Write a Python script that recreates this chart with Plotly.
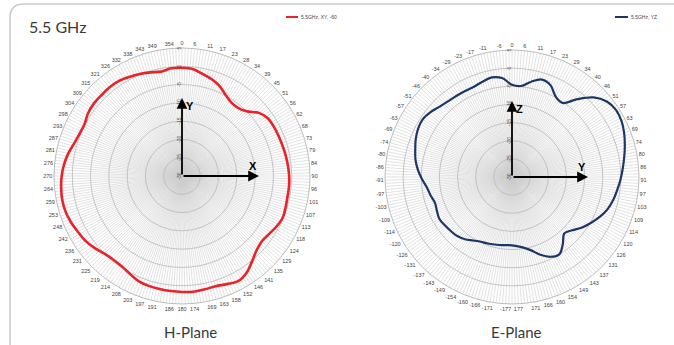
import plotly.graph_objects as go

W, H = 674, 345

# ---------------- data ----------------
H_LABELS = ["0", "6", "11", "17", "23", "28", "34", "39", "45", "51", "56", "62", "68", "73", "79", "84",
            "90", "96", "101", "107", "113", "118", "124", "129", "135", "141", "146", "152", "158", "163", "169", "174",
            "180", "186", "191", "197", "203", "208", "214", "219", "225", "231", "236", "242", "248", "253", "259", "264",
            "270", "276", "281", "287", "293", "298", "304", "309", "315", "321", "326", "332", "338", "343", "349", "354"]
H_VALUES = [-0.4, -0.6, -1.5, -2.3, -3.3, -4.8, -5.8, -5.9, -5.0, -2.8, -1.7, -1.5, -1.4, -1.3, -1.1, -0.9,
            -0.7, -0.6, -0.6, -0.4, -0.2, -0.7, -1.4, -1.8, -1.2, 0.2, 1.8, 2.6, 2.0, 1.5, 1.6, 1.8,
            1.7, 1.6, 1.5, 1.4, 1.1, 0.3, -0.3, -0.4, 0.0, 1.0, 1.8, 2.3, 2.9, 3.3, 3.4, 3.2,
            2.9, 2.4, 1.7, 0.8, 0.3, 0.2, 0.9, 1.2, 1.2, 1.3, 1.2, 0.7, 0.2, -0.4, -0.9, -0.4]

E_LABELS = ["0", "6", "11", "17", "23", "29", "34", "40", "46", "51", "57", "63", "69", "74", "80", "86",
            "91", "97", "103", "109", "114", "120", "126", "131", "137", "143", "149", "154", "160", "166", "171", "177",
            "-177", "-171", "-166", "-160", "-154", "-149", "-143", "-137", "-131", "-126", "-120", "-114", "-109", "-103", "-97",
            "-91", "-86", "-80", "-74", "-69", "-63", "-57", "-51", "-46", "-40", "-34", "-29", "-23", "-17", "-11", "-6"]
E_VALUES = [-4.6, -4.8, -3.2, -1.9, -2.6, -4.8, -5.3, -2.0, 1.4, 3.4, 4.1, 3.9, 3.2, 2.3, 1.4, 0.6,
            -0.1, -0.8, -1.4, -2.2, -3.4, -4.8, -6.2, -7.8, -8.8, -6.8, -5.0, -5.6, -7.2, -9.2, -10.4, -11.0,
            -11.2, -11.0, -10.8, -10.5, -10.2, -9.5, -8.5, -7.8, -7.5, -7.2, -6.9, -7.3, -7.6, -7.0, -6.4,
            -5.2, -4.0, -3.0, -2.3, -1.5, -0.9, -0.7, -1.3, -2.2, -2.7, -2.9, -3.0, -3.0, -2.5, -2.0, -2.6]

R_TICKS = [-30, -25, -20, -15, -10, -5, 0, 5]
H_NAME = "5.5GHz, XY, -60"
E_NAME = "5.5GHz, YZ"
SPOKES_PER_LABEL = 4

GRID = "#cfcfcf"
LABEL_C = "#444444"


def angles(n):
    return [i * 360.0 / n for i in range(n)]


def angular_axis(labels):
    n = len(labels) * SPOKES_PER_LABEL
    vals = angles(n)
    text = [labels[i // SPOKES_PER_LABEL] if i % SPOKES_PER_LABEL == 0 else "" for i in range(n)]
    return dict(rotation=90, direction="clockwise", type="linear", tickmode="array",
                tickvals=vals, ticktext=text, showgrid=True, gridcolor=GRID, gridwidth=0.6,
                showline=True, linecolor="#bdbdbd", linewidth=1, ticks="",
                tickfont=dict(size=5.5, color=LABEL_C, family="Liberation Sans"))


def radial_axis():
    return dict(range=[-30, 5], tickmode="array", tickvals=R_TICKS, ticktext=[str(v) for v in R_TICKS],
                angle=90, tickangle=0, side="counterclockwise", showline=False, ticks="",
                showgrid=True, gridcolor="#b8b8b8", gridwidth=0.8,
                tickfont=dict(size=5, color=LABEL_C, family="Liberation Sans"))


fig = go.Figure()
h_theta = angles(len(H_LABELS))
e_theta = angles(len(E_LABELS))
fig.add_trace(go.Scatterpolar(r=H_VALUES + H_VALUES[:1], theta=h_theta + h_theta[:1], mode="lines",
                              line=dict(color="#e8232a", width=2.6, shape="spline", smoothing=1),
                              name=H_NAME, subplot="polar", showlegend=False, hoverinfo="skip"))
fig.add_trace(go.Scatterpolar(r=E_VALUES + E_VALUES[:1], theta=e_theta + e_theta[:1], mode="lines",
                              line=dict(color="#1c3766", width=2.2, shape="spline", smoothing=1),
                              name=E_NAME, subplot="polar2", showlegend=False, hoverinfo="skip"))


def dom(cx, cy, r):
    return dict(x=[(cx - r) / W, (cx + r) / W], y=[1 - (cy + r) / H, 1 - (cy - r) / H])


fig.update_layout(
    width=W, height=H, autosize=False,
    margin=dict(l=0, r=0, t=0, b=0, pad=0),
    paper_bgcolor="white", plot_bgcolor="white",
    showlegend=False,
    polar=dict(domain=dom(182, 176, 128), bgcolor="rgba(0,0,0,0)",
               angularaxis=angular_axis(H_LABELS), radialaxis=radial_axis()),
    polar2=dict(domain=dom(512, 177, 127), bgcolor="rgba(0,0,0,0)",
                angularaxis=angular_axis(E_LABELS), radialaxis=radial_axis()),
)


def px(x):
    return x / W


def py(y):
    return 1 - y / H


# card border
rx, ry = 14 / W, 14 / H
x0, yt = px(10), py(4)
fig.add_shape(type="path", xref="paper", yref="paper",
              path=f"M {x0},{py(360)} L {x0},{yt - ry} Q {x0},{yt} {x0 + rx},{yt} L {px(690)},{yt}",
              line=dict(color="#c9c9c9", width=1.5), layer="below")

ann = []
ann.append(dict(x=px(27), y=py(27), xref="paper", yref="paper", text="5.5 GHz", showarrow=False,
                xanchor="left", yanchor="middle", font=dict(size=16, color="#3a3a3a", family="Lato")))
ann.append(dict(x=px(190), y=py(332), xref="paper", yref="paper", text="H-Plane", showarrow=False,
                xanchor="center", yanchor="middle", font=dict(size=15, color="#3a3a3a", family="Lato")))
ann.append(dict(x=px(516), y=py(332), xref="paper", yref="paper", text="E-Plane", showarrow=False,
                xanchor="center", yanchor="middle", font=dict(size=15, color="#3a3a3a", family="Lato")))

# legends
fig.add_shape(type="line", xref="paper", yref="paper", x0=px(286), x1=px(298), y0=py(17), y1=py(17),
              line=dict(color="#e8232a", width=2))
ann.append(dict(x=px(299), y=py(17), xref="paper", yref="paper", text=H_NAME, showarrow=False,
                xanchor="left", yanchor="middle", font=dict(size=5, color=LABEL_C, family="Liberation Sans")))
fig.add_shape(type="line", xref="paper", yref="paper", x0=px(615), x1=px(628), y0=py(17), y1=py(17),
              line=dict(color="#1c3766", width=2))
ann.append(dict(x=px(629), y=py(17), xref="paper", yref="paper", text=E_NAME, showarrow=False,
                xanchor="left", yanchor="middle", font=dict(size=5, color=LABEL_C, family="Liberation Sans")))


def arrow(tx, ty, ox, oy):
    return dict(x=px(tx), y=py(ty), xref="paper", yref="paper", ax=ox - tx, ay=oy - ty,
                axref="pixel", ayref="pixel", text="", showarrow=True, arrowhead=2,
                arrowsize=1.2, arrowwidth=1.8, arrowcolor="black")


ann.append(arrow(182, 98, 182, 176))
ann.append(arrow(259, 176, 182, 176))
ann.append(arrow(512, 101, 512, 177))
ann.append(arrow(588, 177, 512, 177))


def lab(t, x, y):
    return dict(x=px(x), y=py(y), xref="paper", yref="paper", text=f"<b>{t}</b>", showarrow=False,
                xanchor="center", yanchor="middle", font=dict(size=11, color="black", family="Liberation Sans"))


ann.append(lab("Y", 190, 106))
ann.append(lab("X", 253, 166))
ann.append(lab("Z", 519, 109))
ann.append(lab("Y", 582, 167))

fig.update_layout(annotations=ann, hovermode=False)
fig.write_html("out.html", config={"displayModeBar": False, "staticPlot": True},
               post_script="document.body.style.margin='0px';document.body.style.overflow='hidden';")
